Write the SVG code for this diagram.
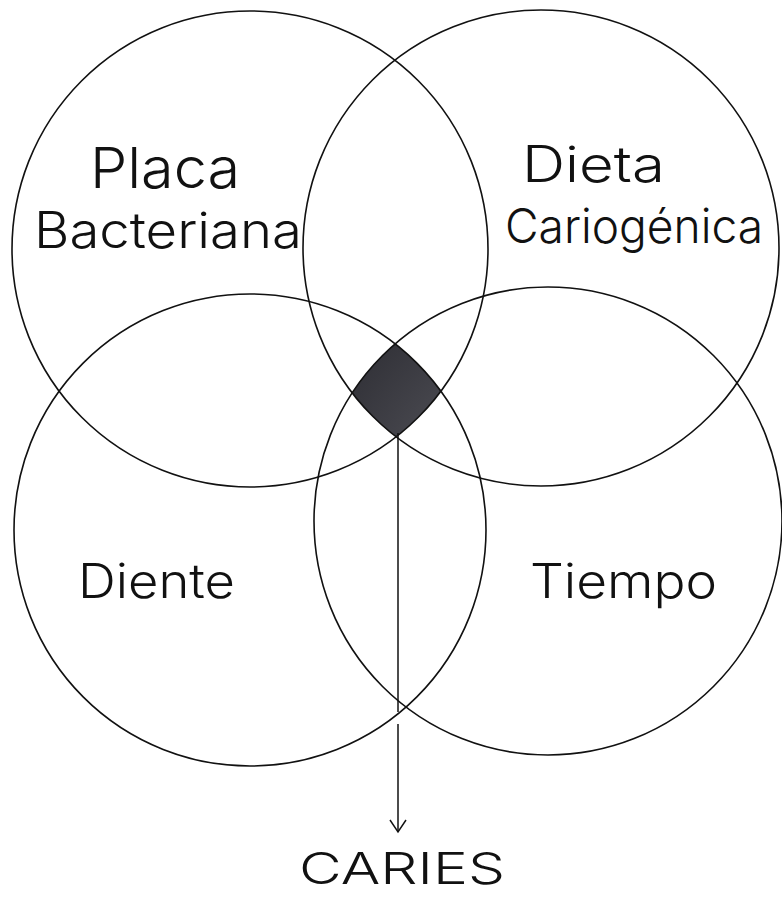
<svg xmlns="http://www.w3.org/2000/svg" width="782" height="898" viewBox="0 0 782 898">
<style>
.c{fill:none;stroke:#111;stroke-width:1.6}
.t{font-family:Inter,"DejaVu Sans",sans-serif;font-weight:300;fill:#111}
.ln{stroke:#111;stroke-width:1.5;fill:none}
</style>
<defs>
<clipPath id="cTL"><circle cx="250" cy="249" r="238"/></clipPath>
<clipPath id="cTR"><circle cx="541" cy="248" r="238"/></clipPath>
<clipPath id="cBL"><circle cx="250" cy="530" r="236"/></clipPath>
<radialGradient id="g" cx="50%" cy="50%" r="60%">
<stop offset="0" stop-color="#6a6a72"/>
<stop offset="1" stop-color="#2a2a30"/>
</radialGradient>
<marker id="arr" markerWidth="20" markerHeight="20" refX="14" refY="10" orient="auto" markerUnits="userSpaceOnUse" viewBox="0 0 20 20">
<path d="M2,2 L14,10 L2,18" fill="none" stroke="#111" stroke-width="1.5"/>
</marker>
</defs>
<rect width="782" height="898" fill="#fff"/>
<g id="intersection">
<g clip-path="url(#cTL)"><g clip-path="url(#cTR)"><g clip-path="url(#cBL)">
<circle cx="548" cy="521" r="234" fill="url(#g)"/>
</g></g></g>
</g>
<g id="placa">
<circle class="c" cx="250" cy="249" r="238"/>
<text class="t" x="90" y="188" font-size="56" textLength="150" lengthAdjust="spacingAndGlyphs">Placa</text>
<text class="t" x="34" y="248" font-size="50" textLength="268" lengthAdjust="spacingAndGlyphs">Bacteriana</text>
</g>
<g id="dieta">
<circle class="c" cx="541" cy="248" r="238"/>
<text class="t" x="522" y="182" font-size="50" textLength="143" lengthAdjust="spacingAndGlyphs">Dieta</text>
<text class="t" x="505" y="243" font-size="48" textLength="258" lengthAdjust="spacingAndGlyphs">Cariogénica</text>
</g>
<g id="diente">
<circle class="c" cx="250" cy="530" r="236"/>
<text class="t" x="78" y="598" font-size="48" textLength="157" lengthAdjust="spacingAndGlyphs">Diente</text>
</g>
<g id="tiempo">
<circle class="c" cx="548" cy="521" r="234"/>
<text class="t" x="530" y="598" font-size="48" textLength="187" lengthAdjust="spacingAndGlyphs">Tiempo</text>
</g>
<g id="caries">
<text class="t" x="299" y="884" font-size="44" textLength="206" lengthAdjust="spacingAndGlyphs">CARIES</text>
</g>
<g id="connectors">
<line class="ln" x1="398" y1="433" x2="398" y2="712"/>
<line class="ln" x1="398" y1="724" x2="398" y2="832" marker-end="url(#arr)"/>
</g>
</svg>
